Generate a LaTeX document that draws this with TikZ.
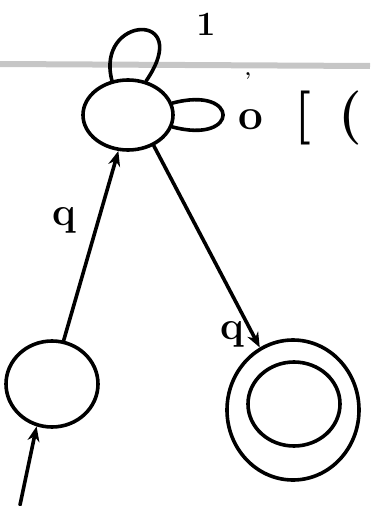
\documentclass[tikz,border=0pt]{standalone}
\usetikzlibrary{shapes.geometric,arrows.meta}
\begin{document}
\begin{tikzpicture}[x=1pt,y=-1pt,
  pen/.style={line width=3.6pt,black,line cap=round},
  state/.style={ellipse,draw,line width=3.6pt,inner sep=0pt},
  lbl/.style={font=\bfseries\fontsize{40}{40}\selectfont,inner sep=1pt},
  tip/.style={-{Stealth[length=15pt,width=12pt]}}]
\useasboundingbox (0,0) rectangle (370,506);
% paper line
\draw[line width=6pt,gray!45] (0,64) -- (370,66);
% states
\node[state,minimum width=90pt,minimum height=70pt] (p) at (128,115) {};
\node[state,minimum width=92pt,minimum height=86pt] (s) at (52,384) {};
\node[state,minimum width=132pt,minimum height=140pt] (f) at (293,410) {};
\node[state,minimum width=92pt,minimum height=84pt] (fi) at (294,404) {};
% initial arrow
\coordinate (init) at (20,505);
\draw[pen,tip] (init) -- (s.250);
% edges
\draw[pen,tip] (s.75) -- (p.255);
\draw[pen,tip] (p.-50) -- (f.118);
% loops
\draw[pen] (p.115) .. controls (95,15) and (195,10) .. (p.62);
\draw[pen] (p.15) .. controls (240,85) and (240,145) .. (p.-15);
% labels
\node[lbl,font=\bfseries\fontsize{34}{34}\selectfont] (l1) at (206,24) {1};
\node[lbl] (lq1) at (64,220) {q};
\node[lbl] (lq2) at (232,334) {q};
\node[lbl,font=\bfseries\fontsize{20}{20}\selectfont] (tick) at (248,80) {'};
\node[lbl,font=\bfseries\fontsize{44}{44}\selectfont] (lo) at (251,120) {o};
\node[lbl,font=\bfseries\fontsize{54}{54}\selectfont] (lb) at (303,118) {[};
\node[lbl,font=\bfseries\fontsize{54}{54}\selectfont] (lp) at (350,118) {(};
\end{tikzpicture}
\end{document}
